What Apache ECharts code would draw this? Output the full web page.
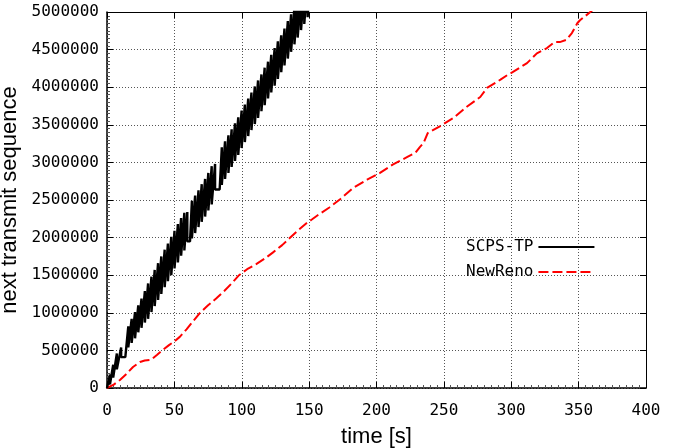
<!DOCTYPE html>
<html>
<head>
<meta charset="utf-8">
<script src="https://cdn.jsdelivr.net/npm/echarts@6/dist/echarts.min.js"></script>
<style>
html,body{margin:0;padding:0;background:#fff;}
#c{width:676px;height:448px;}
</style>
</head>
<body>
<div id="c"></div>
<script>
// ---- data ----
var xTicks = [0, 50, 100, 150, 200, 250, 300, 350, 400];
var yTicks = [0, 500000, 1000000, 1500000, 2000000, 2500000, 3000000, 3500000, 4000000, 4500000, 5000000];
var seriesNames = ["SCPS-TP", "NewReno"];

// SCPS-TP: next transmit sequence (sawtooth), time [s]
var scpsTime = [
  0, 2.2, 2.2, 4.6, 4.6, 7.3, 7.3, 10.5, 10.5, 13.6, 15.8, 15.8, 18.3, 18.3, 20.8, 20.8,
  23.2, 23.2, 25.6, 25.6, 28.1, 28.1, 30.5, 30.5, 33.0, 33.0, 35.4, 35.4, 37.9, 37.9,
  40.3, 40.3, 42.8, 42.8, 45.2, 45.2, 47.7, 47.7, 50.1, 50.1, 52.6, 52.6, 55.0, 55.0,
  57.4, 57.4, 59.6, 59.6, 61.6, 63.0, 63.0, 65.4, 65.4, 67.9, 67.9, 70.3, 70.3,
  72.8, 72.8, 75.2, 75.2, 77.7, 77.7, 80.2, 80.2, 83.6, 85.2, 85.2, 87.6, 87.6,
  90.1, 90.1, 92.5, 92.5, 95.0, 95.0, 97.4, 97.4, 99.9, 99.9, 102.3, 102.3,
  104.8, 104.8, 107.2, 107.2, 109.7, 109.7, 112.1, 112.1, 114.6, 114.6, 117.0, 117.0,
  119.5, 119.5, 121.9, 121.9, 124.4, 124.4, 126.8, 126.8, 129.3, 129.3, 131.7, 131.7,
  134.2, 134.2, 136.6, 136.6, 139.1, 139.1, 141.5, 141.5, 144.0, 144.0, 146.4, 146.4,
  148.9, 148.9, 151.0
];
var scpsSeq = [
  0, 180000, 50000, 310000, 140000, 460000, 250000, 540000, 410000, 410000, 820000, 540000, 920000, 600000, 1010000, 660000,
  1100000, 740000, 1190000, 800000, 1290000, 870000, 1390000, 920000, 1480000, 1010000, 1570000, 1090000, 1660000, 1170000,
  1750000, 1250000, 1840000, 1340000, 1920000, 1420000, 2010000, 1500000, 2090000, 1590000, 2180000, 1670000, 2260000, 1760000,
  2330000, 1830000, 2340000, 1950000, 1950000, 2490000, 1990000, 2560000, 2060000, 2630000, 2140000, 2710000, 2210000,
  2780000, 2280000, 2860000, 2360000, 2950000, 2440000, 2980000, 2640000, 2640000, 3200000, 2700000, 3280000, 2780000,
  3360000, 2860000, 3440000, 2940000, 3520000, 3020000, 3600000, 3100000, 3690000, 3190000, 3770000, 3270000,
  3850000, 3350000, 3930000, 3430000, 4010000, 3510000, 4090000, 3590000, 4170000, 3680000, 4260000, 3760000,
  4340000, 3850000, 4430000, 3930000, 4520000, 4020000, 4610000, 4110000, 4690000, 4200000, 4780000, 4290000,
  4880000, 4380000, 4970000, 4470000, 5070000, 4570000, 5160000, 4660000, 5250000, 4760000, 5340000, 4840000,
  5420000, 4930000, 5500000
];

// NewReno
var renoTime = [0, 5, 9.6, 14, 19.3, 24.5, 28, 31.9, 34, 37, 41, 46, 50, 54, 59, 64, 69, 75, 81, 87, 93, 98,
  104, 111, 117, 123, 130, 136, 142, 148, 152, 156.6, 165, 173, 182.6, 193, 202.6, 212, 222.6, 229, 232,
  235, 238, 247, 257, 267, 277, 282, 292, 297, 301, 311.7, 319, 326.5, 332, 336, 341, 345, 349, 351, 358, 362];
var renoSeq = [0, 45000, 106000, 180000, 279000, 346000, 365000, 372000, 395000, 439000, 500000, 570000, 620000, 680000,
  780000, 890000, 1000000, 1100000, 1190000, 1290000, 1400000, 1500000,
  1580000, 1650000, 1720000, 1800000, 1900000, 2000000, 2100000, 2190000, 2240000, 2300000, 2400000, 2510000, 2660000,
  2770000, 2860000, 2970000, 3070000, 3130000, 3200000,
  3260000, 3390000, 3480000, 3590000, 3740000, 3870000, 3990000, 4100000, 4160000, 4200000, 4320000, 4450000, 4520000,
  4600000, 4600000, 4630000, 4720000, 4850000, 4890000, 4990000, 5050000];

function pairs(xs, ys) { var o = []; for (var i = 0; i < xs.length; i++) o.push([xs[i], ys[i]]); return o; }

var mono = "DejaVu Sans Mono";
var chart = echarts.init(document.getElementById('c'), null, {renderer: 'canvas'});
var xMin = xTicks[0], xMax = xTicks[xTicks.length - 1], xInt = xTicks[1] - xTicks[0];
var yMin = yTicks[0], yMax = yTicks[yTicks.length - 1], yInt = yTicks[1] - yTicks[0];

chart.setOption({
  animation: false,
  backgroundColor: '#fff',
  grid: {left: 107, right: 30, top: 12, bottom: 60, show: false, containLabel: false, outerBoundsMode: 'none'},
  legend: {
    orient: 'vertical', left: 461, top: 234, align: 'right',
    itemWidth: 56, itemHeight: 16, itemGap: 9,
    itemStyle: {opacity: 0},
    textStyle: {fontFamily: mono, fontSize: 16, color: '#000'},
    data: seriesNames
  },
  xAxis: [{
    type: 'value', min: xMin, max: xMax, interval: xInt,
    name: 'time [s]', nameLocation: 'middle', nameGap: 38,
    nameTextStyle: {fontFamily: 'Liberation Sans', fontSize: 22, color: '#000'},
    axisLine: {show: true, onZero: false, lineStyle: {color: '#000', width: 1.5}},
    axisTick: {show: true, inside: true, length: 6, lineStyle: {color: '#000'}},
    minorTick: {show: true, splitNumber: 10, length: 3, lineStyle: {color: '#555'}},
    axisLabel: {fontFamily: mono, fontSize: 16, color: '#000', margin: 15},
    splitLine: {show: true, lineStyle: {color: '#555', type: [1, 2], width: 1}}
  }, {
    type: 'value', min: xMin, max: xMax, interval: xInt, position: 'top',
    axisLine: {show: true, onZero: false, lineStyle: {color: '#000', width: 1}},
    axisTick: {show: true, inside: true, length: 6, lineStyle: {color: '#000'}},
    axisLabel: {show: false}, splitLine: {show: false}
  }],
  yAxis: [{
    type: 'value', min: yMin, max: yMax, interval: yInt,
    name: 'next transmit sequence', nameLocation: 'middle', nameGap: 76, nameRotate: 90,
    nameTextStyle: {fontFamily: 'Liberation Sans', fontSize: 22, color: '#000'},
    axisLine: {show: true, onZero: false, lineStyle: {color: '#000', width: 1.5}},
    axisTick: {show: true, inside: true, length: 6, lineStyle: {color: '#000'}},
    minorTick: {show: true, splitNumber: 10, length: 3, lineStyle: {color: '#555'}},
    axisLabel: {fontFamily: mono, fontSize: 16, color: '#000', margin: 8, formatter: function (v) { return String(v); }},
    splitLine: {show: true, lineStyle: {color: '#555', type: [1, 2], width: 1}}
  }, {
    type: 'value', min: yMin, max: yMax, interval: yInt, position: 'right',
    axisLine: {show: true, onZero: false, lineStyle: {color: '#000', width: 1}},
    axisTick: {show: true, inside: true, length: 6, lineStyle: {color: '#000'}},
    axisLabel: {show: false}, splitLine: {show: false}
  }],
  series: [{
    name: seriesNames[0], type: 'line', xAxisIndex: 0, yAxisIndex: 0,
    data: pairs(scpsTime, scpsSeq), showSymbol: false, symbol: 'none',
    lineStyle: {color: '#000', width: 2.4}, itemStyle: {color: '#000'},
    clip: true, z: 3
  }, {
    name: seriesNames[1], type: 'line', xAxisIndex: 0, yAxisIndex: 0,
    data: pairs(renoTime, renoSeq), showSymbol: false, symbol: 'none',
    lineStyle: {color: '#ff0000', width: 2, type: [10, 4]}, itemStyle: {color: '#ff0000'},
    clip: true, z: 2
  }]
});
</script>
</body>
</html>
